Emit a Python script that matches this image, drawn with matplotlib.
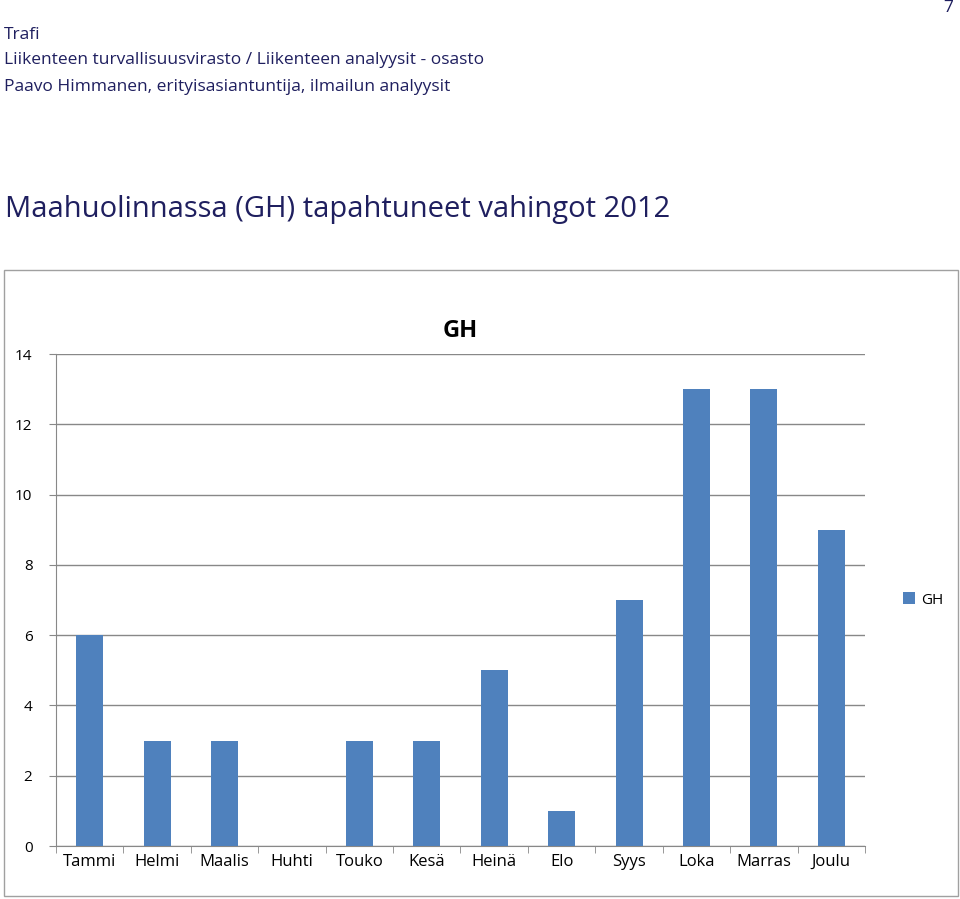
import matplotlib.pyplot as plt
from matplotlib.patches import Rectangle
import numpy as np

plt.rcParams['font.family'] = ['Open Sans', 'DejaVu Sans']

months = ["Tammi", "Helmi", "Maalis", "Huhti", "Touko", "Kesä", "Heinä",
          "Elo", "Syys", "Loka", "Marras", "Joulu"]
gh = [6, 3, 3, 0, 3, 3, 5, 1, 7, 13, 13, 9]
yticks = [0, 2, 4, 6, 8, 10, 12, 14]

fig = plt.figure(figsize=(9.6, 8.99), dpi=100)

# header
fig.text(4 / 960, 1 - 35 / 899, "Trafi", fontsize=12.5, va='center', color='#1f1f5f')
fig.text(4 / 960, 1 - 60 / 899, "Liikenteen turvallisuusvirasto / Liikenteen analyysit - osasto",
         fontsize=12.5, va='center', color='#1f1f5f')
fig.text(4 / 960, 1 - 87 / 899, "Paavo Himmanen, erityisasiantuntija, ilmailun analyysit",
         fontsize=12.5, va='center', color='#1f1f5f')
fig.text(948 / 960, 1 - 8 / 899, "7", fontsize=12.5, va='center', ha='center', color='#1f1f5f')
fig.text(5 / 960, 1 - 210 / 899, "Maahuolinnassa (GH) tapahtuneet vahingot 2012",
         fontsize=21, va='center', color='#1f1f5f')

# chart frame
fig.patches.append(Rectangle((4 / 960, 3 / 899), 954 / 960, 626 / 899,
                             transform=fig.transFigure, fill=False,
                             edgecolor='#a0a0a0', linewidth=1))

ax = fig.add_axes([56 / 960, 53 / 899, 809 / 960, 492 / 899])
x = np.arange(len(months))
ax.bar(x, gh, width=0.4, color='#4f81bd', label='GH', zorder=3)
ax.set_xlim(-0.5, len(months) - 0.5)
ax.set_ylim(0, 14)
ax.set_yticks(yticks)
ax.set_xticks(x)
ax.set_xticklabels(months, fontsize=12)
ax.set_xticks(np.arange(-0.5, len(months)), minor=True)
ax.tick_params(axis='x', which='major', length=0, pad=6)
ax.tick_params(axis='x', which='minor', length=5, color='#888888')
ax.tick_params(axis='y', labelsize=11, length=5, color='#888888', pad=12)
ax.grid(axis='y', color='#888888', linewidth=1, zorder=0)
for s in ['top', 'right']:
    ax.spines[s].set_visible(False)
for s in ['left', 'bottom']:
    ax.spines[s].set_color('#888888')
ax.set_title("GH", fontsize=17, fontweight='bold', pad=12)
ax.legend(loc='center left', bbox_to_anchor=(1.03, 0.5), frameon=False,
          fontsize=11, handlelength=0.8, handleheight=0.8, handletextpad=0.4)

fig.savefig('out.png', dpi=100)
